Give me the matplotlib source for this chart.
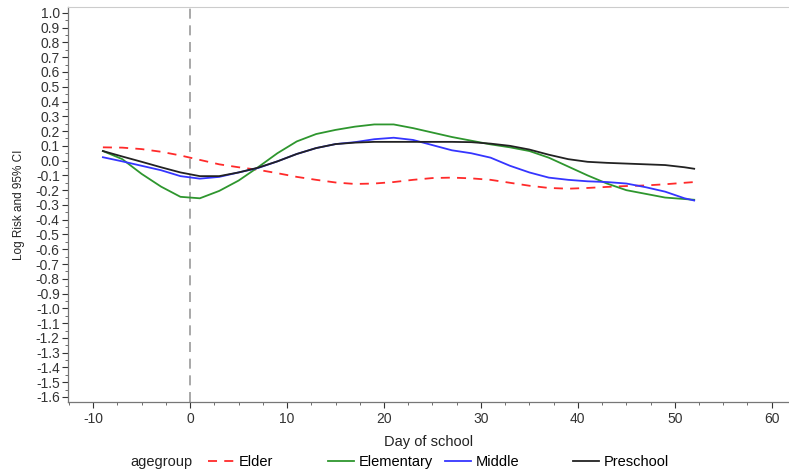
import matplotlib
matplotlib.use("Agg")
import matplotlib.pyplot as plt
from matplotlib.ticker import MultipleLocator

plt.rcParams['font.family'] = ['Liberation Sans', 'DejaVu Sans']
plt.rcParams['axes.unicode_minus'] = False

days = [-9, -7, -5, -3, -1, 1, 3, 5, 7, 9, 11, 13, 15, 17, 19, 21, 23, 25, 27, 29,
        31, 33, 35, 37, 39, 41, 43, 45, 47, 49, 51, 52]

elder = [0.09, 0.088, 0.078, 0.06, 0.035, 0.005, -0.025, -0.045, -0.062, -0.085, -0.11,
         -0.13, -0.148, -0.158, -0.155, -0.145, -0.13, -0.118, -0.115, -0.12, -0.13,
         -0.15, -0.17, -0.185, -0.19, -0.185, -0.178, -0.172, -0.168, -0.16, -0.15, -0.145]
elementary = [0.065, 0.01, -0.09, -0.176, -0.245, -0.255, -0.205, -0.135, -0.045, 0.05,
              0.13, 0.18, 0.208, 0.23, 0.245, 0.245, 0.22, 0.19, 0.16, 0.135, 0.11, 0.09,
              0.065, 0.02, -0.04, -0.1, -0.155, -0.2, -0.225, -0.25, -0.26, -0.265]
middle = [0.023, -0.005, -0.035, -0.065, -0.105, -0.122, -0.11, -0.08, -0.05, -0.005,
          0.045, 0.085, 0.112, 0.125, 0.145, 0.155, 0.14, 0.105, 0.07, 0.05, 0.02, -0.035,
          -0.08, -0.115, -0.13, -0.14, -0.145, -0.155, -0.18, -0.21, -0.255, -0.27]
preschool = [0.065, 0.028, -0.008, -0.045, -0.08, -0.105, -0.105, -0.08, -0.048, -0.005,
             0.045, 0.085, 0.112, 0.122, 0.127, 0.127, 0.127, 0.127, 0.127, 0.125, 0.115,
             0.1, 0.075, 0.04, 0.01, -0.008, -0.015, -0.02, -0.025, -0.03, -0.045, -0.055]

series_names = ["Elder", "Elementary", "Middle", "Preschool"]
series_vals = [elder, elementary, middle, preschool]
colors = ["#FF2A2A", "#2E962E", "#3535FF", "#222222"]
styles = [(0, (5, 4)), "-", "-", "-"]

yticks = [round(-1.6 + 0.1 * i, 1) for i in range(27)]
xticks = [-10, 0, 10, 20, 30, 40, 50, 60]

fig = plt.figure(figsize=(7.89, 4.72), dpi=100)
ax = fig.add_axes([68/789, 1 - 402/472, 1 - 68/789 - 0.001, (402 - 7)/472])

ax.axvline(0, color="#999999", lw=1.2, ls=(0, (6, 4)), zorder=1)
handles = []
for name, vals, c, s in zip(series_names, series_vals, colors, styles):
    ln, = ax.plot(days, vals, color=c, lw=1.3, ls=s, label=name, zorder=2,
                  solid_joinstyle='round')
    handles.append(ln)

ax.set_xlim(-12.6, 61.7)
ax.set_ylim(-1.634, 1.04)
ax.set_xticks(xticks)
ax.set_yticks(yticks)
ax.set_yticklabels([f"{v:.1f}" for v in yticks])
ax.xaxis.set_minor_locator(MultipleLocator(2.5))
ax.yaxis.set_minor_locator(MultipleLocator(0.05))
ax.tick_params(axis='both', labelsize=10, colors="#333333", length=4, width=0.8)
ax.tick_params(axis='both', which='minor', length=2, width=0.6, colors="#555555")
ax.tick_params(axis='y', pad=2)
for sp in ['left', 'bottom']:
    ax.spines[sp].set_color("#777777")
    ax.spines[sp].set_linewidth(0.9)
ax.spines['top'].set_color("#cccccc")
ax.spines['right'].set_visible(False)

ax.set_xlabel("Day of school", fontsize=10.5, color="#222222", labelpad=6)
ax.set_ylabel("Log Risk and 95% CI", fontsize=8.5, color="#222222")
ax.yaxis.set_label_coords(-0.06, 0.5)

fig.text(130/789, 1 - 462/472, "agegroup", fontsize=10.5, color="#222222", va="center")
starts = [208, 328, 445, 573]
for h, x0 in zip(handles, starts):
    fig.legend(handles=[h], loc="center left", bbox_to_anchor=(x0/789, 1 - 462/472),
               frameon=False, fontsize=10.5, handlelength=1.8, handletextpad=0.3,
               borderpad=0, borderaxespad=0)

fig.savefig("out.png", dpi=100, facecolor="white")
